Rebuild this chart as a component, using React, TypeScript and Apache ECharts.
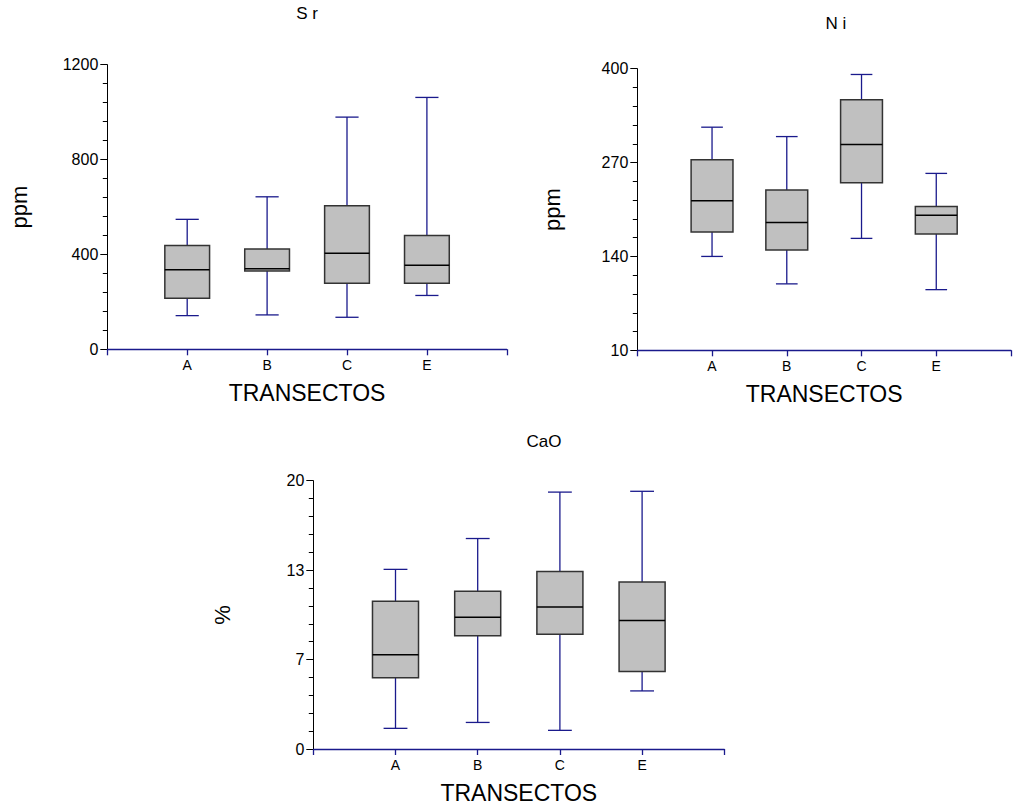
import React, { useEffect, useRef } from "react";
import * as echarts from "echarts";

// Transect categories shared by all three panels
const categories = ["A", "B", "C", "E"];

// Sr (ppm) five-number summaries per transect
const srLow = [142, 145, 135, 227];
const srQ1 = [215, 330, 279, 279];
const srMedian = [335, 340, 405, 354];
const srQ3 = [438, 423, 605, 480];
const srHigh = [548, 643, 979, 1062];

// Ni (ppm)
const niLow = [140, 102, 165, 94];
const niQ1 = [174, 149, 242, 171];
const niMedian = [217, 187, 295, 197];
const niQ3 = [274, 232, 357, 209];
const niHigh = [319, 306, 392, 255];

// CaO (%)
const caoLow = [1.54, 1.98, 1.39, 4.33];
const caoQ1 = [5.32, 8.44, 8.56, 5.77];
const caoMedian = [7.03, 9.82, 10.59, 9.58];
const caoQ3 = [11.01, 11.75, 13.24, 12.45];
const caoHigh = [13.39, 15.69, 19.15, 19.21];

// Y axis tick values and their printed labels
const srTicks = [0, 400, 800, 1200];
const srTickLabels = ["0", "400", "800", "1200"];
const niTicks = [10, 140, 270, 400];
const niTickLabels = ["10", "140", "270", "400"];
const caoTicks = [0, 20 / 3, 40 / 3, 20];
const caoTickLabels = ["0", "7", "13", "20"];

const FONT = "'Liberation Sans', Arial, sans-serif";
const NAVY = "#1a1a8c";
const BOX_FILL = "#c0c0c0";
const BOX_EDGE = "#333333";

const minorBetween = (ticks: number[], parts: number) => {
  const out: number[] = [];
  for (let i = 0; i < ticks.length - 1; i++) {
    const step = (ticks[i + 1] - ticks[i]) / parts;
    for (let k = 1; k < parts; k++) out.push(ticks[i] + step * k);
  }
  return out;
};

const buildData = (
  lo: number[],
  q1: number[],
  med: number[],
  q3: number[],
  hi: number[]
) => categories.map((_, k) => [k + 1, lo[k], q1[k], med[k], q3[k], hi[k]]);

const renderBox = (params: any, api: any) => {
  const x = api.value(0);
  const lo = api.coord([x, api.value(1)]);
  const q1 = api.coord([x, api.value(2)]);
  const med = api.coord([x, api.value(3)]);
  const q3 = api.coord([x, api.value(4)]);
  const hi = api.coord([x, api.value(5)]);
  const bw = api.size([0.56, 0])[0];
  const cw = api.size([0.29, 0])[0];
  const cx = lo[0];
  const whisker = { stroke: NAVY, lineWidth: 1.3 };
  return {
    type: "group",
    children: [
      { type: "line", shape: { x1: cx, y1: q3[1], x2: cx, y2: hi[1] }, style: whisker },
      { type: "line", shape: { x1: cx, y1: lo[1], x2: cx, y2: q1[1] }, style: whisker },
      { type: "line", shape: { x1: cx - cw / 2, y1: hi[1], x2: cx + cw / 2, y2: hi[1] }, style: whisker },
      { type: "line", shape: { x1: cx - cw / 2, y1: lo[1], x2: cx + cw / 2, y2: lo[1] }, style: whisker },
      {
        type: "rect",
        shape: { x: cx - bw / 2, y: q3[1], width: bw, height: q1[1] - q3[1] },
        style: { fill: BOX_FILL, stroke: BOX_EDGE, lineWidth: 1.5 },
      },
      {
        type: "line",
        shape: { x1: cx - bw / 2, y1: med[1], x2: cx + bw / 2, y2: med[1] },
        style: { stroke: "#000", lineWidth: 1.5 },
      },
    ],
  };
};

type Panel = {
  grid: { left: number; top: number; width: number; height: number };
  min: number;
  max: number;
  ticks: number[];
  labels: string[];
  yName: string;
  yNameGap: number;
  data: number[][];
};

const panels: Panel[] = [
  {
    grid: { left: 107.3, top: 64.7, width: 399.5, height: 284.6 },
    min: 0,
    max: 1200,
    ticks: srTicks,
    labels: srTickLabels,
    yName: "ppm",
    yNameGap: 77,
    data: buildData(srLow, srQ1, srMedian, srQ3, srHigh),
  },
  {
    grid: { left: 637.3, top: 68.7, width: 384, height: 281.6 },
    min: 10,
    max: 400,
    ticks: niTicks,
    labels: niTickLabels,
    yName: "ppm",
    yNameGap: 74,
    data: buildData(niLow, niQ1, niMedian, niQ3, niHigh),
  },
  {
    grid: { left: 313.3, top: 480.7, width: 411, height: 269.3 },
    min: 0,
    max: 20,
    ticks: caoTicks,
    labels: caoTickLabels,
    yName: "%",
    yNameGap: 80,
    data: buildData(caoLow, caoQ1, caoMedian, caoQ3, caoHigh),
  },
];

export default function App() {
  const ref = useRef<HTMLDivElement>(null);

  useEffect(() => {
    if (!ref.current) return;
    const chart = echarts.init(ref.current, undefined, { renderer: "svg" });

    const grid = panels.map((p) => ({ ...p.grid, containLabel: false }));

    const xAxis = panels.map((_, i) => ({
      gridIndex: i,
      type: "value",
      min: 0,
      max: 5,
      interval: 1,
      axisLine: { show: true, lineStyle: { color: NAVY, width: 1.3 } },
      axisTick: { show: true, length: 6, lineStyle: { color: NAVY, width: 1.3 } },
      axisLabel: {
        formatter: (v: number) => categories[Math.round(v) - 1] ?? "",
        color: "#000",
        fontSize: 14,
        fontFamily: FONT,
        margin: 9,
      },
      splitLine: { show: false },
      name: "TRANSECTOS",
      nameLocation: "middle",
      nameGap: 32,
      nameTextStyle: { fontSize: 23, color: "#000", fontFamily: FONT },
    }));

    const yAxis: any[] = [];
    panels.forEach((p, i) => {
      yAxis.push({
        gridIndex: i,
        type: "value",
        position: "left",
        min: p.min,
        max: p.max,
        axisLine: { show: true, lineStyle: { color: "#000", width: 1 } },
        axisTick: { show: true, length: 7, customValues: p.ticks, lineStyle: { color: "#000" } },
        axisLabel: {
          customValues: p.ticks,
          formatter: (v: number) => {
            const k = p.ticks.findIndex((t) => Math.abs(t - v) < 1e-6);
            return k >= 0 ? p.labels[k] : "";
          },
          color: "#000",
          fontSize: 16,
          fontFamily: FONT,
          margin: 9,
        },
        splitLine: { show: false },
        name: p.yName,
        nameLocation: "middle",
        nameGap: p.yNameGap,
        nameTextStyle: { fontSize: 22, color: "#000", fontFamily: FONT },
      });
    });
    // minor ticks: a second, label-less axis on each grid
    panels.forEach((p, i) => {
      yAxis.push({
        gridIndex: i,
        type: "value",
        position: "left",
        min: p.min,
        max: p.max,
        axisLine: { show: false },
        axisTick: { show: true, length: 4.5, customValues: minorBetween(p.ticks, 5), lineStyle: { color: "#000" } },
        axisLabel: { show: false },
        splitLine: { show: false },
      });
    });

    const series = panels.map((p, i) => ({
      type: "custom",
      xAxisIndex: i,
      yAxisIndex: i,
      renderItem: renderBox,
      encode: { x: 0, y: [1, 2, 3, 4, 5] },
      data: p.data,
      clip: false,
      silent: true,
    }));

    const titleText = (text: string, x: number, y: number) => ({
      type: "text",
      x,
      y,
      style: {
        text,
        fill: "#000",
        font: `17px ${FONT}`,
        align: "center",
        verticalAlign: "middle",
      },
    });

    chart.setOption({
      animation: false,
      backgroundColor: "#fff",
      grid,
      xAxis,
      yAxis,
      series,
      graphic: [
        titleText("S r", 307, 13),
        titleText("N i", 836, 23),
        titleText("CaO", 544, 441),
      ],
    });

    return () => chart.dispose();
  }, []);

  return (
    <div
      ref={ref}
      style={{ position: "absolute", left: 0, top: 0, width: 1014, height: 805 }}
    />
  );
}
